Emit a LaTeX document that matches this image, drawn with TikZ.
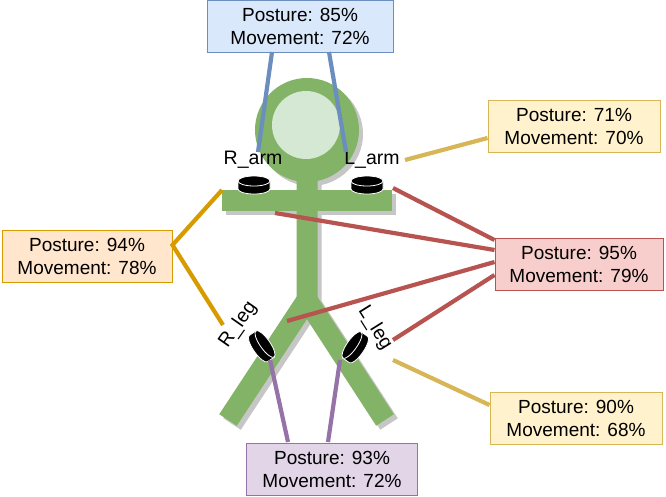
\documentclass[tikz,border=0pt]{standalone}
\usepackage{fontspec}
\setmainfont{Liberation Sans}
\usetikzlibrary{positioning}
\definecolor{bodygreen}{HTML}{82B366}
\definecolor{headlight}{HTML}{D5E8D4}
\definecolor{bluefill}{HTML}{DAE8FC}\definecolor{blueline}{HTML}{6C8EBF}
\definecolor{yelfill}{HTML}{FFF2CC}\definecolor{yelline}{HTML}{D6B656}
\definecolor{orfill}{HTML}{FFE6CC}\definecolor{orline}{HTML}{D79B00}
\definecolor{redfill}{HTML}{F8CECC}\definecolor{redline}{HTML}{B85450}
\definecolor{purfill}{HTML}{E1D5E7}\definecolor{purline}{HTML}{9673A6}
\newcommand{\boxfont}{\fontsize{19}{23}\selectfont}
\newcommand{\tagfont}{\fontsize{19.5}{22}\selectfont}
\tikzset{
  scorebox/.style={draw, line width=1pt, minimum height=52, align=center,
    font=\boxfont, inner sep=2pt},
  limb/.style={line width=21, bodygreen},
  limbshadow/.style={line width=21, gray!45},
  wire/.style={line width=4.2pt},
  tag/.style={font=\tagfont, inner sep=0pt}
}
\newcommand{\sensor}[3]{% x, y, rotation
  \begin{scope}[shift={(#1,#2)}, rotate=#3]
    \fill[black, draw=white, line width=0.8pt] (-16,0) -- (-16,8) arc (180:0:16 and 5) -- (16,0) -- cycle;
    \fill[black, draw=white, line width=0.8pt] (0,0) ellipse (16 and 5);
  \end{scope}}
\begin{document}
\begin{tikzpicture}[x=1pt,y=-1pt]
  \useasboundingbox (0,0) rectangle (666,496);
  % shadow
  \begin{scope}[shift={(4,4)}]
    \fill[gray!45] (307,130) circle (52);
    \draw[limbshadow] (307,170) -- (307,300) -- (228,420);
    \draw[limbshadow] (307,300) -- (385,420);
    \draw[limbshadow] (222,200) -- (392,200);
  \end{scope}
  % body
  \fill[bodygreen] (307,130) circle (52);
  \fill[headlight] (306,125) circle (34);
  \draw[limb] (307,175) -- (307,300) -- (228,420);
  \draw[limb] (307,300) -- (385,420);
  \draw[limb] (222,200) -- (392,200);
  % sensors
  \sensor{254}{181}{0}
  \sensor{367}{181}{0}
  \sensor{265}{344}{-55}
  \sensor{352}{345}{55}
  \node[tag] (rarm) at (253,160) {R\_arm};
  \node[tag] (larm) at (372,160) {L\_arm};
  \node[tag, rotate=55] (rleg) at (238,325) {R\_leg};
  \node[tag, rotate=-58] (lleg) at (375,328) {L\_leg};
  % attachment points
  \coordinate (pa1) at (258,152); \coordinate (pa2) at (346,152);
  \coordinate (pb1) at (405,160);
  \coordinate (pc1) at (222,190); \coordinate (pc2) at (223,325);
  \coordinate (pd1) at (393,188); \coordinate (pd2) at (275,213);
  \coordinate (pd3) at (287,321); \coordinate (pd4) at (393,340);
  \coordinate (pe1) at (393,360);
  \coordinate (pf1) at (270,360); \coordinate (pf2) at (340,360);
  % score boxes
  \node[scorebox, fill=bluefill, draw=blueline, minimum width=186] (head) at (300,26) {Posture: 85\%\\Movement: 72\%};
  \node[scorebox, fill=yelfill, draw=yelline, minimum width=172] (arml) at (574,126) {Posture: 71\%\\Movement: 70\%};
  \node[scorebox, fill=orfill, draw=orline, minimum width=170] (right) at (87,256) {Posture: 94\%\\Movement: 78\%};
  \node[scorebox, fill=redfill, draw=redline, minimum width=168] (all) at (579,264) {Posture: 95\%\\Movement: 79\%};
  \node[scorebox, fill=yelfill, draw=yelline, minimum width=172] (legl) at (576,418) {Posture: 90\%\\Movement: 68\%};
  \node[scorebox, fill=purfill, draw=purline, minimum width=171] (legs) at (332,469) {Posture: 93\%\\Movement: 72\%};
  % connectors
  \draw[wire, blueline] (pa1) -- (272,52) (pa2) -- (329,52);
  \draw[wire, yelline] (pb1) -- (arml.west |- 0,138);
  \draw[wire, orline] (pc1) -- (right.east |- 0,245) -- (pc2);
  \draw[wire, redline] (pd1) -- (all.west |- 0,240) (pd2) -- (all.west |- 0,250)
    (pd3) -- (all.west |- 0,262) (pd4) -- (all.west |- 0,275);
  \draw[wire, yelline] (pe1) -- (legl.west |- 0,405);
  \draw[wire, purline] (pf1) -- (288,442) (pf2) -- (328,442);
\end{tikzpicture}
\end{document}
